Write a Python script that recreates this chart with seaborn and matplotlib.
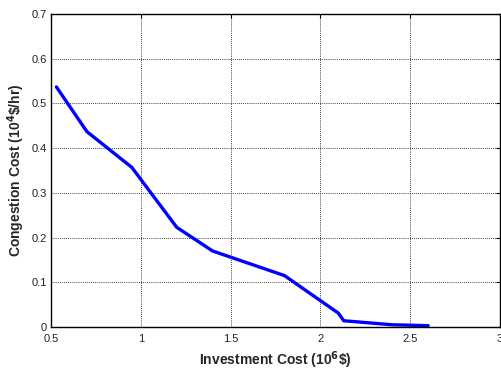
import matplotlib
matplotlib.use("Agg")
import matplotlib.pyplot as plt
import seaborn as sns
import pandas as pd

# Trade-off between investment cost and congestion cost
investment_cost = [0.53, 0.70, 0.95, 1.20, 1.40, 1.80, 2.10, 2.13, 2.40, 2.60]
congestion_cost = [0.537, 0.437, 0.357, 0.223, 0.170, 0.115, 0.031, 0.014, 0.005, 0.003]

x_ticks = [0.5, 1, 1.5, 2, 2.5, 3]
x_tick_labels = ["0.5", "1", "1.5", "2", "2.5", "3"]
y_ticks = [0, 0.1, 0.2, 0.3, 0.4, 0.5, 0.6, 0.7]
y_tick_labels = ["0", "0.1", "0.2", "0.3", "0.4", "0.5", "0.6", "0.7"]

df = pd.DataFrame({"investment": investment_cost, "congestion": congestion_cost})

sns.set_style("white")
plt.rcParams["font.family"] = ["Liberation Sans", "DejaVu Sans"]

fig = plt.figure(figsize=(5.01, 3.70), dpi=100)
ax = fig.add_axes([0.1018, 0.1162, 0.8962, 0.8458])

sns.lineplot(data=df, x="investment", y="congestion", ax=ax,
             color="#0000ff", linewidth=2.4, sort=False)

ax.set_xlim(0.5, 3)
ax.set_ylim(0, 0.7)
ax.set_xticks(x_ticks)
ax.set_xticklabels(x_tick_labels)
ax.set_yticks(y_ticks)
ax.set_yticklabels(y_tick_labels)

ax.grid(True, color="black", linestyle=(0, (1, 1.5)), linewidth=0.6)
ax.tick_params(direction="in", length=3, width=0.8, labelsize=8,
               top=True, right=True, colors="black", pad=3)
ax.tick_params(axis="x", pad=5)
for tl in ax.get_xticklabels() + ax.get_yticklabels():
    tl.set_color("#222222")
for sp in ax.spines.values():
    sp.set_color("black")
    sp.set_linewidth(1.0)
    sp.set_visible(True)

ax.set_xlabel(r"Investment Cost (10$^{\mathbf{6}}$\$)", fontsize=10,
              fontweight="bold", labelpad=4)
ax.set_ylabel(r"Congestion Cost (10$^{\mathbf{4}}$\$/hr)", fontsize=10,
              fontweight="bold", labelpad=3)

fig.savefig("out.png", dpi=100)
